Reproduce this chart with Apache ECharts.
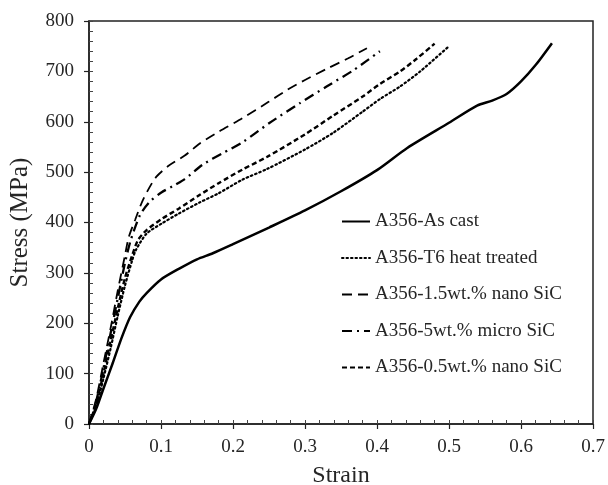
<!DOCTYPE html>
<html>
<head>
<meta charset="utf-8">
<script src="https://cdn.jsdelivr.net/npm/echarts@6/dist/echarts.min.js"></script>
<style>
  html, body { margin: 0; padding: 0; background: #fff; }
  #chart { width: 608px; height: 485px; }
</style>
</head>
<body>
<div id="chart"></div>
<script>
// Stress-strain curves, [strain, stress in MPa]
const asCast = [[0,0],[0.01,30],[0.02,70],[0.033,121],[0.045,170],[0.057,212],[0.07,243],[0.08,260],[0.1,287],[0.126,309],[0.15,327],[0.172,339],[0.2,357],[0.25,390],[0.3,424],[0.35,462],[0.4,504],[0.442,548],[0.5,598],[0.539,632],[0.56,642],[0.58,655],[0.6,680],[0.62,712],[0.643,756]];
const t6HeatTreated = [[0,0],[0.01,35],[0.02,90],[0.03,150],[0.04,215],[0.05,275],[0.06,325],[0.065,345],[0.08,378],[0.101,398],[0.125,418],[0.154,440],[0.18,458],[0.213,485],[0.247,506],[0.3,545],[0.339,578],[0.38,620],[0.404,645],[0.432,670],[0.46,700],[0.5,750]];
const nano15 = [[0,0],[0.01,50],[0.02,120],[0.03,190],[0.04,265],[0.05,335],[0.055,370],[0.064,405],[0.075,445],[0.092,488],[0.11,512],[0.133,533],[0.154,557],[0.18,580],[0.213,607],[0.25,640],[0.275,663],[0.3,683],[0.33,705],[0.36,726],[0.386,746]];
const micro5 = [[0,0],[0.01,45],[0.02,110],[0.03,180],[0.04,250],[0.05,320],[0.058,365],[0.071,415],[0.085,442],[0.101,460],[0.12,475],[0.133,486],[0.158,515],[0.185,537],[0.214,560],[0.25,597],[0.293,637],[0.33,670],[0.367,702],[0.404,740]];
const nano05 = [[0,0],[0.01,40],[0.02,100],[0.03,165],[0.04,230],[0.05,290],[0.06,335],[0.068,365],[0.08,385],[0.101,407],[0.125,428],[0.154,455],[0.18,478],[0.213,505],[0.247,530],[0.3,575],[0.339,612],[0.38,650],[0.404,675],[0.432,700],[0.455,725],[0.48,755]];

const seriesNames = ['A356-As cast', 'A356-T6 heat treated', 'A356-1.5wt.% nano SiC', 'A356-5wt.% micro SiC', 'A356-0.5wt.% nano SiC'];
const seriesData = [asCast, t6HeatTreated, nano15, micro5, nano05];
const lineStyles = [
  { type: 'solid', width: 2.5 },
  { type: [1.5, 3], width: 2.2, cap: 'round' },
  { type: [10, 6], width: 1.8 },
  { type: [10, 5, 2, 5], width: 2.3 },
  { type: [5, 3], width: 2.4 }
];

const serif = 'Liberation Serif, Times New Roman, serif';
const textColor = '#262626';

const chart = echarts.init(document.getElementById('chart'), null, { renderer: 'canvas' });

const series = seriesData.map((d, i) => ({
  name: seriesNames[i],
  type: 'line',
  data: d,
  smooth: 0.25,
  symbol: 'none',
  xAxisIndex: 0,
  yAxisIndex: 0,
  lineStyle: Object.assign({ color: '#000' }, lineStyles[i]),
  itemStyle: { color: '#000' }
}));

chart.setOption({
  animation: false,
  backgroundColor: '#fff',
  grid: {
    left: 89, right: 15, top: 21, bottom: 61,
    outerBoundsMode: 'none',
    containLabel: false,
    show: true, borderColor: '#222', borderWidth: 1.5, backgroundColor: 'transparent'
  },
  legend: {
    orient: 'vertical',
    left: 336, top: 207,
    itemWidth: 28, itemHeight: 12, itemGap: 17.5,
    itemStyle: { opacity: 0 },
    textStyle: { fontFamily: serif, fontSize: 19, color: textColor },
    data: seriesNames
  },
  xAxis: [
    {
      type: 'value', min: 0, max: 0.7, interval: 0.1,
      name: 'Strain', nameLocation: 'middle', nameGap: 40,
      nameTextStyle: { fontFamily: serif, fontSize: 24, color: textColor },
      axisLine: { lineStyle: { color: '#222', width: 1.5 } },
      axisTick: { show: true, inside: false, length: 5, lineStyle: { color: '#222', width: 1.2 } },
      axisLabel: { fontFamily: serif, fontSize: 19, color: textColor, margin: 14,
        formatter: v => (Math.round(v * 10) / 10).toString() },
      splitLine: { show: false }
    },
    {
      type: 'value', min: 0, max: 0.7, interval: 0.02, position: 'bottom',
      axisLine: { show: false },
      axisTick: { show: true, inside: true, length: 4, lineStyle: { color: '#444', width: 1 } },
      axisLabel: { show: false },
      splitLine: { show: false }
    }
  ],
  yAxis: [
    {
      type: 'value', min: 0, max: 800, interval: 100,
      name: 'Stress (MPa)', nameLocation: 'middle', nameGap: 56, nameRotate: 90,
      nameTextStyle: { fontFamily: serif, fontSize: 25, color: textColor },
      axisLine: { show: true, lineStyle: { color: '#222', width: 1.5 } },
      axisTick: { show: true, inside: false, length: 5, lineStyle: { color: '#222', width: 1.2 } },
      axisLabel: { fontFamily: serif, fontSize: 19, color: textColor, margin: 15 },
      splitLine: { show: false }
    },
    {
      type: 'value', min: 0, max: 800, interval: 20, position: 'left',
      axisLine: { show: false },
      axisTick: { show: true, inside: true, length: 4, lineStyle: { color: '#444', width: 1 } },
      axisLabel: { show: false },
      splitLine: { show: false }
    }
  ],
  series: series
});
</script>
</body>
</html>
